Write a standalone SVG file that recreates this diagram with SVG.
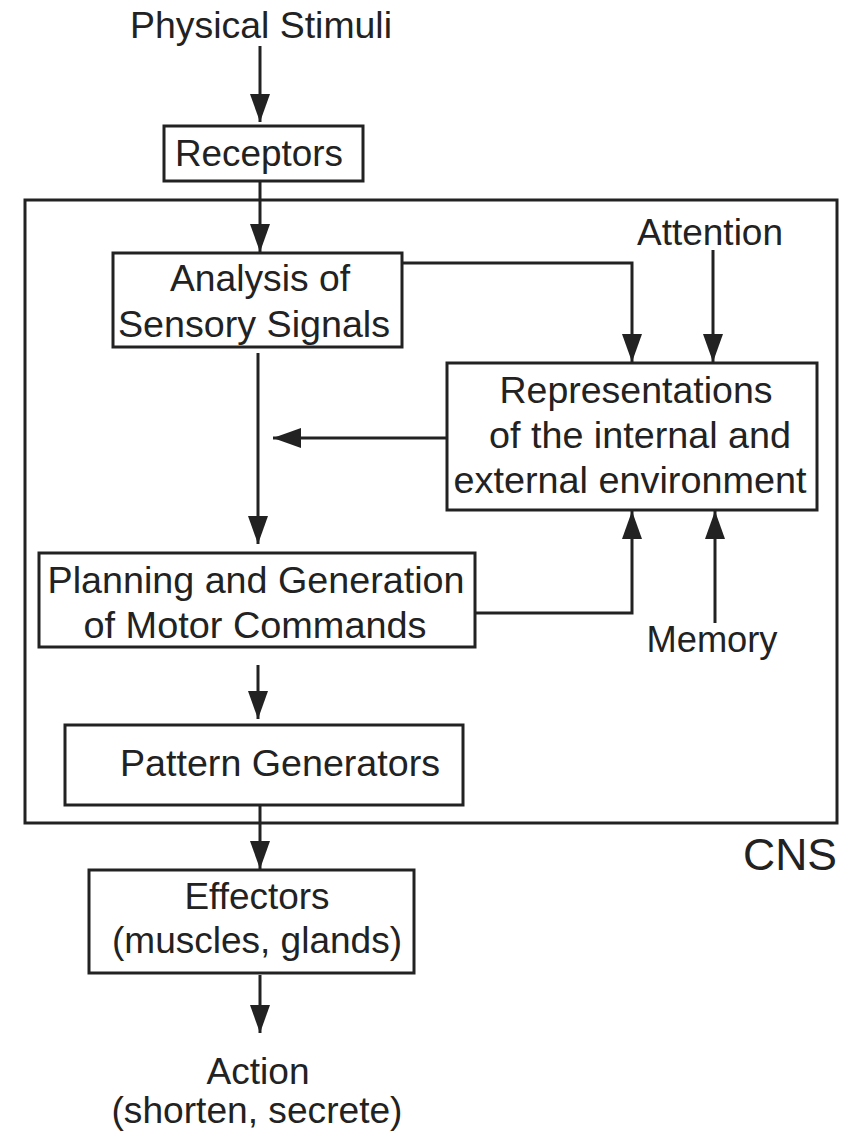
<svg xmlns="http://www.w3.org/2000/svg" width="848" height="1133" viewBox="0 0 848 1133">
<style>
.box{fill:#fff;stroke:#222;stroke-width:3}
.cns{fill:none;stroke:#222;stroke-width:3}
.t{font-family:"Liberation Sans",Arial,sans-serif;font-size:36px;fill:#222;text-anchor:middle}
.ln{fill:none;stroke:#222;stroke-width:3;marker-end:url(#ah)}
</style>
<defs>
<marker id="ah" markerUnits="userSpaceOnUse" markerWidth="28" markerHeight="20" refX="28" refY="10" orient="auto">
<path d="M0,0 L28,10 L0,20 z" fill="#222"/>
</marker>
</defs>
<rect class="cns" x="25" y="200" width="812" height="623"/>
<text class="t" x="790" y="870" style="font-size:44px" textLength="94" lengthAdjust="spacingAndGlyphs">CNS</text>
<g id="connectors">
<line class="ln" x1="260" y1="46" x2="260" y2="122"/>
<line class="ln" x1="260" y1="181" x2="260" y2="252"/>
<polyline class="ln" points="402,263 632,263 632,362"/>
<line class="ln" x1="713" y1="250" x2="713" y2="362"/>
<line class="ln" x1="447" y1="438" x2="273" y2="438"/>
<line class="ln" x1="258" y1="353" x2="258" y2="544"/>
<polyline class="ln" points="475,613 632,613 632,511"/>
<line class="ln" x1="715" y1="623" x2="715" y2="511"/>
<line class="ln" x1="258" y1="665" x2="258" y2="719"/>
<line class="ln" x1="260" y1="805" x2="260" y2="869"/>
<line class="ln" x1="260" y1="975" x2="260" y2="1033"/>
</g>
<g id="physical-stimuli">
<text class="t" x="261" y="38" textLength="262" lengthAdjust="spacingAndGlyphs">Physical Stimuli</text>
</g>
<g id="receptors">
<rect class="box" x="164" y="126" width="199" height="55"/>
<text class="t" x="259" y="166" textLength="168" lengthAdjust="spacingAndGlyphs">Receptors</text>
</g>
<g id="analysis">
<rect class="box" x="113" y="253" width="289" height="94"/>
<text class="t" x="260" y="291" textLength="180" lengthAdjust="spacingAndGlyphs">Analysis of</text>
<text class="t" x="254" y="337" textLength="272" lengthAdjust="spacingAndGlyphs">Sensory Signals</text>
</g>
<g id="attention">
<text class="t" x="710" y="245" textLength="146" lengthAdjust="spacingAndGlyphs">Attention</text>
</g>
<g id="representations">
<rect class="box" x="447" y="363" width="370" height="147"/>
<text class="t" x="636" y="403" textLength="273" lengthAdjust="spacingAndGlyphs">Representations</text>
<text class="t" x="640" y="448" textLength="302" lengthAdjust="spacingAndGlyphs">of the internal and</text>
<text class="t" x="630" y="493" textLength="353" lengthAdjust="spacingAndGlyphs">external environment</text>
</g>
<g id="planning">
<rect class="box" x="39" y="553" width="436" height="94"/>
<text class="t" x="256" y="593" textLength="417" lengthAdjust="spacingAndGlyphs">Planning and Generation</text>
<text class="t" x="255" y="638" textLength="343" lengthAdjust="spacingAndGlyphs">of Motor Commands</text>
</g>
<g id="memory">
<text class="t" x="712" y="652" textLength="131" lengthAdjust="spacingAndGlyphs">Memory</text>
</g>
<g id="pattern-generators">
<rect class="box" x="65" y="725" width="398" height="80"/>
<text class="t" x="280" y="776" textLength="320" lengthAdjust="spacingAndGlyphs">Pattern Generators</text>
</g>
<g id="effectors">
<rect class="box" x="89" y="870" width="325" height="103"/>
<text class="t" x="257" y="909" textLength="145" lengthAdjust="spacingAndGlyphs">Effectors</text>
<text class="t" x="257" y="953" textLength="290" lengthAdjust="spacingAndGlyphs">(muscles, glands)</text>
</g>
<g id="action">
<text class="t" x="258" y="1084" textLength="103" lengthAdjust="spacingAndGlyphs">Action</text>
<text class="t" x="257" y="1123" textLength="291" lengthAdjust="spacingAndGlyphs">(shorten, secrete)</text>
</g>
</svg>
